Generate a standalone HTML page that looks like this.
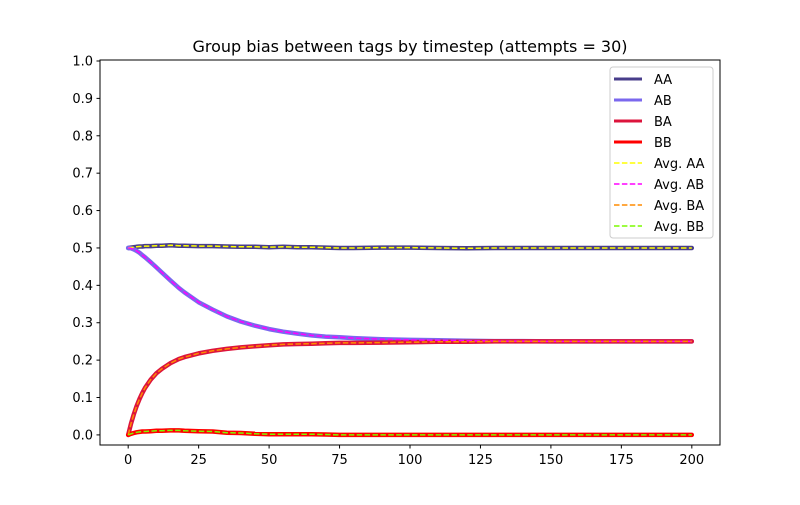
<!DOCTYPE html>
<html><head><meta charset="utf-8"><style>
body{margin:0;background:#fff;font-family:"Liberation Sans","DejaVu Sans",sans-serif}
svg text{font-family:"DejaVu Sans","Liberation Sans",sans-serif;font-size:13px}
</style></head><body>
<svg id="chart" width="800" height="500" xmlns="http://www.w3.org/2000/svg">
<rect width="800" height="500" fill="#fff"/>
<text x="410" y="52" text-anchor="middle" style="font-size:16px">Group bias between tags by timestep (attempts = 30)</text>
<g id="plot"></g>
<rect x="100" y="60" width="620" height="385" fill="none" stroke="#000" stroke-width="1"/>
<g id="axes"></g>
<g id="legend"></g>
</svg>
<script>
const timesteps=[0,1,2,3,4,5,6,8,10,12,15,18,20,25,30,35,40,45,50,55,60,65,70,75,80,90,100,110,120,130,140,150,160,170,180,190,200];
const seriesAA=[0.5,0.501,0.502,0.503,0.504,0.504,0.505,0.505,0.506,0.506,0.507,0.506,0.506,0.505,0.505,0.504,0.503,0.503,0.502,0.503,0.502,0.502,0.501,0.500,0.500,0.501,0.501,0.500,0.499,0.500,0.500,0.500,0.500,0.500,0.500,0.500,0.500];
const seriesAB=[0.5,0.499,0.496,0.492,0.487,0.481,0.475,0.462,0.448,0.434,0.413,0.393,0.381,0.355,0.335,0.317,0.303,0.292,0.283,0.276,0.271,0.266,0.263,0.261,0.259,0.256,0.254,0.253,0.252,0.251,0.251,0.250,0.250,0.250,0.250,0.250,0.250];
const seriesBA=[0,0.03,0.055,0.077,0.096,0.112,0.126,0.148,0.165,0.177,0.192,0.203,0.208,0.218,0.225,0.230,0.234,0.237,0.240,0.242,0.243,0.244,0.245,0.246,0.246,0.247,0.248,0.249,0.249,0.250,0.250,0.250,0.250,0.250,0.250,0.250,0.250];
const seriesBB=[0,0.003,0.005,0.007,0.008,0.009,0.009,0.010,0.011,0.011,0.012,0.012,0.011,0.010,0.009,0.006,0.005,0.003,0.002,0.002,0.002,0.002,0.001,0,0,0,0,0,0,0,0,0,0,0,0,0,0];
const xTicks=[0,25,50,75,100,125,150,175,200];
const yTicks=[0.0,0.1,0.2,0.3,0.4,0.5,0.6,0.7,0.8,0.9,1.0];
const names=['AA','AB','BA','BB'];
const solidColors=['#483d8b','#7b68ee','#dc143c','#ff0000'];
const avgColors=['#ffff00','#ff00ff','#ff8c00','#7cfc00'];
const NS='http://www.w3.org/2000/svg';
const X=v=>100+(v+10)/220*620;
const Y=v=>445-(v+0.027)/1.027*384;
const plot=document.getElementById('plot'),axes=document.getElementById('axes'),leg=document.getElementById('legend');
function mk(t,a,p){const e=document.createElementNS(NS,t);for(const k in a)e.setAttribute(k,a[k]);p.appendChild(e);return e;}
const all=[seriesAA,seriesAB,seriesBA,seriesBB];
all.forEach((s,i)=>{
 const d=s.map((v,j)=>(j?'L':'M')+X(timesteps[j]).toFixed(1)+','+Y(v).toFixed(1)).join('');
 const p=mk('path',{d:d,fill:'none',stroke:solidColors[i],'stroke-width':4.5,'stroke-linejoin':'round','stroke-linecap':'round'},plot);
 
 
});
all.forEach((s,i)=>{
 const d=s.map((v,j)=>(j?'L':'M')+X(timesteps[j]).toFixed(1)+','+Y(v).toFixed(1)).join('');
 const p=mk('path',{d:d,fill:'none',stroke:avgColors[i],'stroke-width':1.5,'stroke-dasharray':'5.5,2.4'},plot);
 
 
});
xTicks.forEach(t=>{
 mk('line',{x1:X(t),x2:X(t),y1:445,y2:448.5,stroke:'#000'},axes);
 const tx=mk('text',{x:X(t),y:464,'text-anchor':'middle'},axes);tx.textContent=t;
 
 
});
yTicks.forEach(t=>{
 mk('line',{x1:96.5,x2:100,y1:Y(t),y2:Y(t),stroke:'#000'},axes);
 const tx=mk('text',{x:93,y:Y(t)+4.5,'text-anchor':'end'},axes);tx.textContent=t.toFixed(1);
 
 
});
mk('rect',{x:610,y:67,width:103,height:171,rx:3,fill:'#fff','fill-opacity':0.8,stroke:'#ccc'},leg);
const labels=['AA','AB','BA','BB','Avg. AA','Avg. AB','Avg. BA','Avg. BB'];
labels.forEach((l,i)=>{
 const y=79+i*21;
 const avg=i>=4;
 mk('line',{x1:614,x2:642,y1:y,y2:y,stroke:avg?avgColors[i-4]:solidColors[i],'stroke-width':avg?1.5:3,'stroke-dasharray':avg?'5.5,2.4':'none'},leg);
 const t=mk('text',{x:654,y:y+5},leg);t.textContent=l;
 
 
});
</script>
</body></html>
